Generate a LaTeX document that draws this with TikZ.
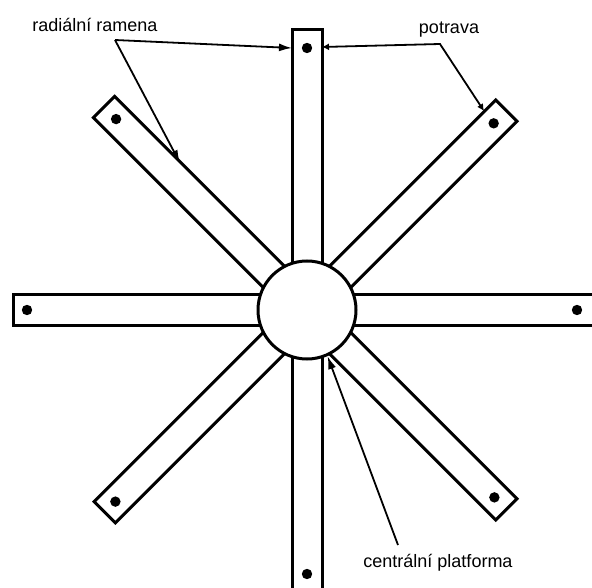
\documentclass[tikz,border=0pt]{standalone}
\usepackage{fontspec}
\setmainfont{Liberation Sans}
\usetikzlibrary{arrows.meta}

\begin{document}
\begin{tikzpicture}[x=1pt, y=1pt,
    arm/.style={draw, line width=3pt, fill=white},
    pointer/.style={line width=1.8pt, -{Latex[length=13pt, width=8pt]}},
    label/.style={font=\fontsize{18}{20}\selectfont, inner sep=1pt}]
  \useasboundingbox (0,0) rectangle (592,-588);
  \clip (0,0) rectangle (592,-588);
  \coordinate (centre) at (307,-310);
  % arms: angle / length / where the food lies
  \foreach \a/\l/\f in {0/292/270, 45/282/264, 90/280/262, 135/287/270,
                        180/294/280, 225/286/271, 270/292/264, 315/282/265} {
    \begin{scope}[shift={(centre)}, rotate=\a]
      \draw[arm] (0,-15) rectangle (\l,15);
      \fill (\f,0) circle[radius=5.2];
    \end{scope}
  }
  \node[arm, circle, minimum size=98pt, inner sep=0pt] (platform) at (centre) {};

  \node[label] (ramena) at (95,-25) {radiální ramena};
  \node[label] (potrava) at (449,-30) {potrava};
  \node[label] (platforma) at (438,-563) {centrální platforma};

  \coordinate (toparm) at (292,-48);
  \coordinate (diagarm) at (180,-163);
  \coordinate (foodtop) at (322,-47);
  \coordinate (fooddiag) at (484,-111);
  \coordinate (rbend) at (115,-40);
  \coordinate (pbend) at (440,-44);
  \coordinate (pstart) at (398,-545);

  \draw[pointer] (rbend) -- (toparm);
  \draw[pointer] (rbend) -- (diagarm);
  \draw[line width=1.8pt, {Latex[length=7pt, width=7pt]}-{Latex[length=7pt, width=7pt]}]
    (foodtop) -- (pbend) -- (fooddiag);
  \draw[pointer] (pstart) -- (platform.-66);
\end{tikzpicture}
\end{document}
